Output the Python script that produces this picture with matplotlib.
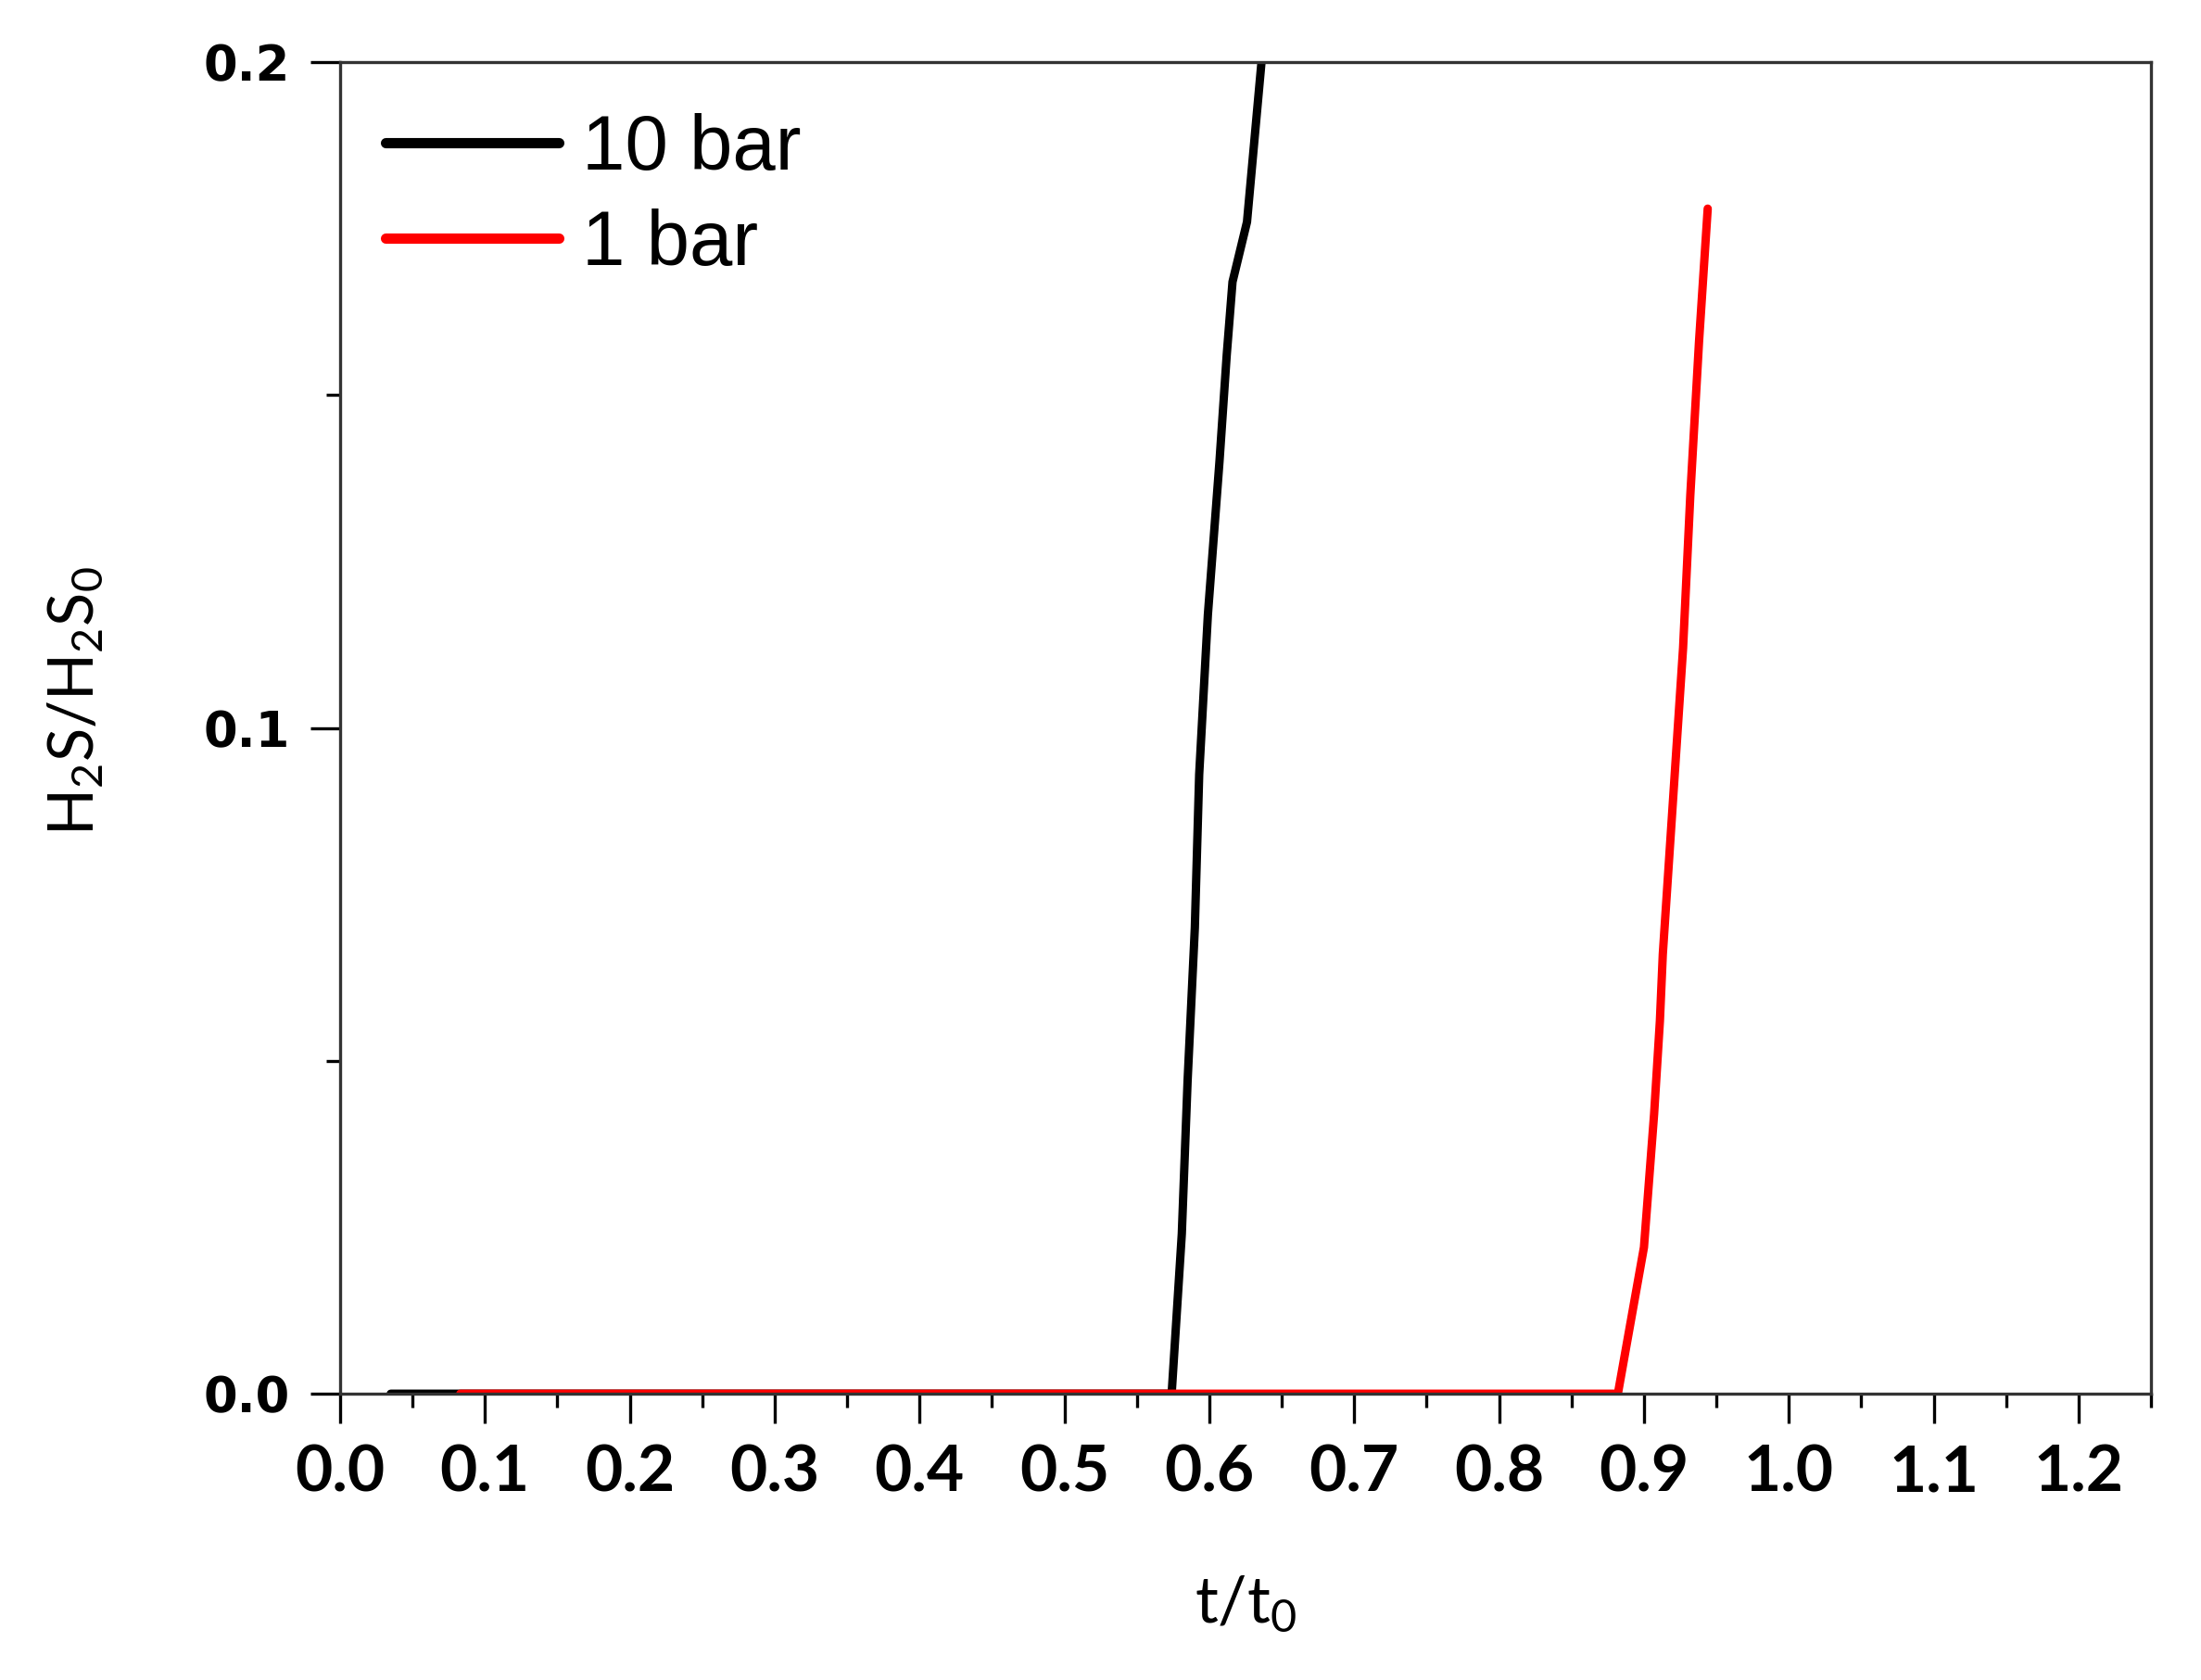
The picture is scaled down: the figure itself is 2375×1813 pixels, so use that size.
import numpy as np
import matplotlib
matplotlib.use("Agg")
import matplotlib.pyplot as plt
from matplotlib.ticker import MultipleLocator

# data
t_10bar = [0.035, 0.574, 0.581, 0.585, 0.590, 0.593, 0.599, 0.607, 0.612, 0.616, 0.626, 0.636]
h2s_10bar = [0.0, 0.0, 0.024, 0.047, 0.070, 0.093, 0.117, 0.140, 0.156, 0.167, 0.176, 0.200]

t_1bar = [0.083, 0.882, 0.900, 0.907, 0.911, 0.913, 0.920, 0.927, 0.932, 0.938, 0.944]
h2s_1bar = [0.0, 0.0, 0.022, 0.042, 0.056, 0.066, 0.089, 0.112, 0.135, 0.158, 0.178]

labels = ["10 bar", "1 bar"]
x_ticks = [0.0, 0.1, 0.2, 0.3, 0.4, 0.5, 0.6, 0.7, 0.8, 0.9, 1.0, 1.1, 1.2]
y_ticks = [0.0, 0.1, 0.2]

plt.rcParams['font.family'] = ['Lato', 'DejaVu Sans']
plt.rcParams['mathtext.default'] = 'regular'

fig = plt.figure(figsize=(23.75, 18.13), dpi=100)
ax = fig.add_axes([0.1545, 0.1704, 0.8228, 0.7926])

ax.plot(t_10bar, h2s_10bar, color='black', lw=6.5, label=labels[0], solid_capstyle='round')
ax.plot(t_1bar, h2s_1bar, color='#ff0000', lw=6.5, label=labels[1], solid_capstyle='round')

ax.set_xlim(0, 1.25)
ax.set_ylim(0, 0.2)
ax.set_xticks(x_ticks)
ax.set_yticks(y_ticks)
ax.xaxis.set_minor_locator(MultipleLocator(0.05))
ax.yaxis.set_minor_locator(MultipleLocator(0.05))
ax.set_xticklabels([f"{v:.1f}" for v in x_ticks], fontsize=50, fontweight='bold', family='Lato')
ax.set_yticklabels([f"{v:.1f}" for v in y_ticks], fontsize=38, fontweight='bold', family='DejaVu Sans')

ax.tick_params(which='major', direction='out', length=23, width=2.4, pad=16)
ax.tick_params(which='minor', direction='out', length=11, width=2.4)
ax.tick_params(top=False, right=False)
for sp in ax.spines.values():
    sp.set_linewidth(2.4)
    sp.set_color('#333333')

ax.set_xlabel('t/t$_0$', fontsize=50)
ax.xaxis.set_label_coords(0.5, -0.135)
ax.set_ylabel('H$_2$S/H$_2$S$_0$', fontsize=48)
ax.yaxis.set_label_coords(-0.13, 0.52)

leg = ax.legend(loc='upper left', bbox_to_anchor=(0.025, 0.962), frameon=False,
                prop={'family': 'Liberation Sans', 'size': 60},
                handlelength=2.25, handletextpad=0.3, labelspacing=0.3,
                borderpad=0, borderaxespad=0)
for line in leg.get_lines():
    line.set_linewidth(8)

fig.savefig('out.png', dpi=100)
